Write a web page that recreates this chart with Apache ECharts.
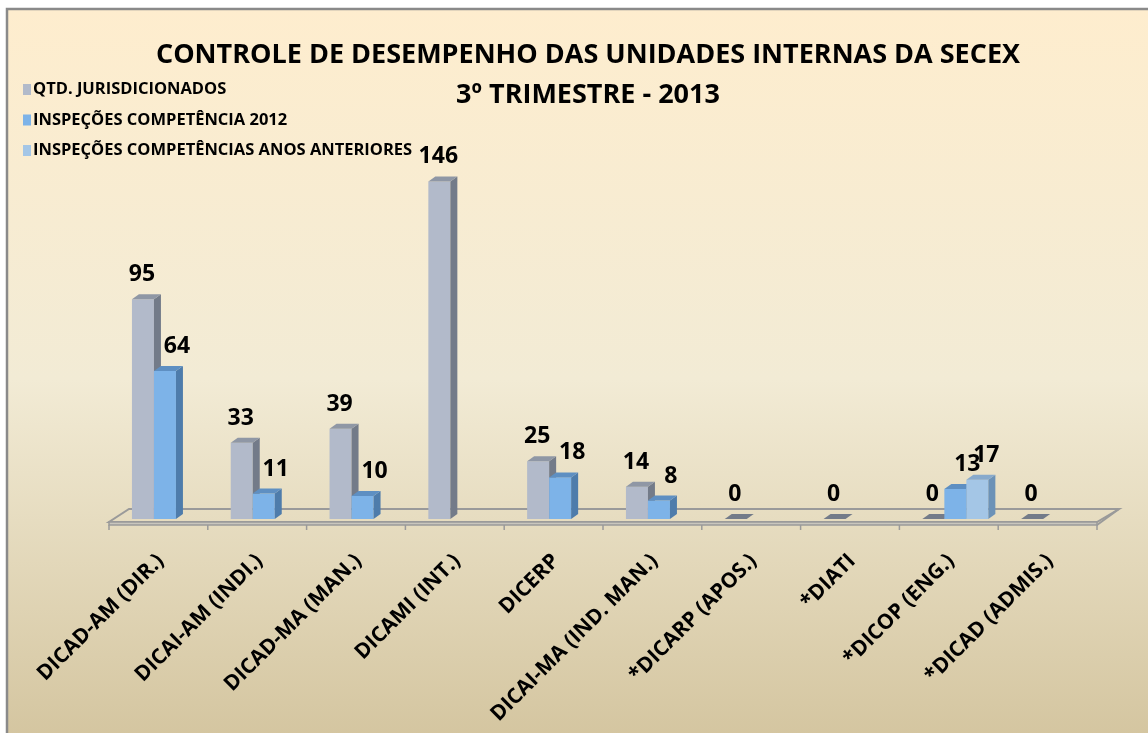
<!DOCTYPE html>
<html>
<head>
<meta charset="utf-8">
<script src="https://cdn.jsdelivr.net/npm/echarts@6/dist/echarts.min.js"></script>
<style>html,body{margin:0;padding:0;background:#fff}#c{width:1148px;height:733px}</style>
</head>
<body>
<div id="c"></div>
<script>
var categories = ["DICAD-AM (DIR.)", "DICAI-AM (INDI.)", "DICAD-MA (MAN.)", "DICAMI (INT.)", "DICERP", "DICAI-MA (IND. MAN.)", "*DICARP (APOS.)", "*DIATI", "*DICOP (ENG.)", "*DICAD (ADMIS.)"];
var seriesNames = ["QTD. JURISDICIONADOS", "INSPEÇÕES COMPETÊNCIA 2012", "INSPEÇÕES COMPETÊNCIAS ANOS ANTERIORES"];
var qtdJurisdicionados = [95, 33, 39, 146, 25, 14, 0, 0, 0, 0];
var inspecoes2012 = [64, 11, 10, null, 18, 8, null, null, 13, null];
var inspecoesAnteriores = [null, null, null, null, null, null, null, null, 17, null];
var titleLines = ["CONTROLE DE DESEMPENHO DAS UNIDADES INTERNAS DA SECEX", "3º TRIMESTRE - 2013"];

var FONT = "'Open Sans', sans-serif";
var palettes = [
  {front: '#B2BACA', side: '#737B89', top: '#8F97A5'},
  {front: '#7DB3E8', side: '#4E7CAB', top: '#5E8FC2'},
  {front: '#A4C6E6', side: '#6C92B7', top: '#88AACC'}
];
var labelShift = [-1, 12, 9];

function toData(arr) {
  var out = [];
  arr.forEach(function (v, i) { if (v !== null && v !== undefined) out.push([i, v]); });
  return out;
}

function makeRender(slot) {
  var col = palettes[slot];
  return function (params, api) {
    var ci = api.value(0), v = api.value(1);
    var base = api.coord([ci, 0]);
    var tp = api.coord([ci, v]);
    var w = api.size([1, 0])[0];
    var bw = w * 0.2227;
    var x = base[0] - w * 0.369 + slot * bw;
    var y0 = base[1], yt = tp[1];
    var dx = 7, dy = 5;
    var children = [];
    if (v > 0) {
      children.push({type: 'rect', shape: {x: x, y: yt, width: bw, height: y0 - yt}, style: {fill: col.front}});
      children.push({type: 'polygon', shape: {points: [[x + bw, yt], [x + bw + dx, yt - dy], [x + bw + dx, y0 - dy], [x + bw, y0]]}, style: {fill: col.side}});
      children.push({type: 'polygon', shape: {points: [[x, yt], [x + dx, yt - dy], [x + bw + dx, yt - dy], [x + bw, yt]]}, style: {fill: col.top}});
    } else {
      children.push({type: 'polygon', shape: {points: [[x, y0], [x + dx, y0 - dy], [x + bw + dx, y0 - dy], [x + bw, y0]]}, style: {fill: col.side}});
    }
    children.push({type: 'text', z2: 10, style: {text: String(v), x: x + bw / 2 + labelShift[slot], y: yt - dy - 8, align: 'center', verticalAlign: 'bottom', font: 'bold 23px ' + FONT, fill: '#000'}});
    return {type: 'group', children: children};
  };
}

function renderFloor(params, api) {
  var c0 = api.coord([0, 0]);
  var w = api.size([1, 0])[0];
  var n = categories.length;
  var xL = c0[0] - w / 2, xR = xL + n * w, y0 = c0[1];
  var sh = 10;
  var children = [];
  children.push({type: 'polygon', shape: {points: [[xL + sh, y0 - 10], [xR + sh + 2, y0 - 10], [xR - sh, y0 + 3], [xL - sh, y0 + 3]]}, style: {fill: 'rgba(0,0,0,0)', stroke: '#9a9a9a', lineWidth: 2}});
  children.push({type: 'polygon', shape: {points: [[xL - sh, y0 + 3], [xR - sh, y0 + 3], [xR - sh, y0 + 6], [xL - sh, y0 + 6]]}, style: {fill: '#c9c6bd', stroke: '#9a9a9a', lineWidth: 1.5}});
  children.push({type: 'polyline', shape: {points: [[xR + sh + 2, y0 - 10], [xR - sh, y0 + 6]]}, style: {stroke: '#9a9a9a', lineWidth: 2, fill: null}});
  for (var k = 0; k <= n; k++) {
    var tx = xL - sh + k * w;
    children.push({type: 'line', shape: {x1: tx, y1: y0 + 6, x2: tx, y2: y0 + 11}, style: {stroke: '#9a9a9a', lineWidth: 1.5}});
  }
  return {type: 'group', children: children};
}

var chart = echarts.init(document.getElementById('c'), null, {renderer: 'canvas'});
var option = {
  backgroundColor: '#ffffff',
  animation: false,
  graphic: [{
    type: 'rect', z: -10, silent: true,
    shape: {x: 7, y: 9, width: 1160, height: 740},
    style: {
      fill: {type: 'linear', x: 0, y: 0, x2: 0, y2: 1, colorStops: [
        {offset: 0, color: '#FEEDCE'}, {offset: 0.5, color: '#F2EBD5'}, {offset: 1, color: '#D3C49E'}]},
      stroke: '#8a8a8a', lineWidth: 2.5
    }
  }],
  title: {
    text: titleLines.join('\n'),
    left: 583, top: 30, textAlign: 'center',
    textStyle: {fontFamily: FONT, fontWeight: 'bold', fontSize: 27, lineHeight: 40, color: '#000'}
  },
  legend: {
    data: seriesNames,
    orient: 'vertical', left: 18, top: 76, itemGap: 13.5,
    itemWidth: 8, itemHeight: 11, icon: 'rect',
    textStyle: {fontFamily: FONT, fontWeight: 'bold', fontSize: 16.5, lineHeight: 14, color: '#000', padding: [0, 0, 0, -3]}
  },
  grid: {left: 119, right: 41, top: 149, bottom: 214},
  xAxis: {
    type: 'category', data: categories,
    axisLine: {show: false}, axisTick: {show: false}, splitLine: {show: false},
    axisLabel: {interval: 0, rotate: 45, margin: 31, padding: [0, 11, 0, 0], fontFamily: FONT, fontWeight: 'bold', fontSize: 21, color: '#000'}
  },
  yAxis: {type: 'value', min: 0, max: 160, show: false},
  series: [
    {type: 'custom', name: '_floor', data: [[0, 0]], renderItem: renderFloor, z: 1, silent: true, encode: {x: 0, y: 1}},
    {type: 'custom', name: seriesNames[0], data: toData(qtdJurisdicionados), renderItem: makeRender(0), itemStyle: {color: palettes[0].front}, encode: {x: 0, y: 1}, z: 2},
    {type: 'custom', name: seriesNames[1], data: toData(inspecoes2012), renderItem: makeRender(1), itemStyle: {color: palettes[1].front}, encode: {x: 0, y: 1}, z: 3},
    {type: 'custom', name: seriesNames[2], data: toData(inspecoesAnteriores), renderItem: makeRender(2), itemStyle: {color: palettes[2].front}, encode: {x: 0, y: 1}, z: 4}
  ]
};
chart.setOption(option);
</script>
</body>
</html>
